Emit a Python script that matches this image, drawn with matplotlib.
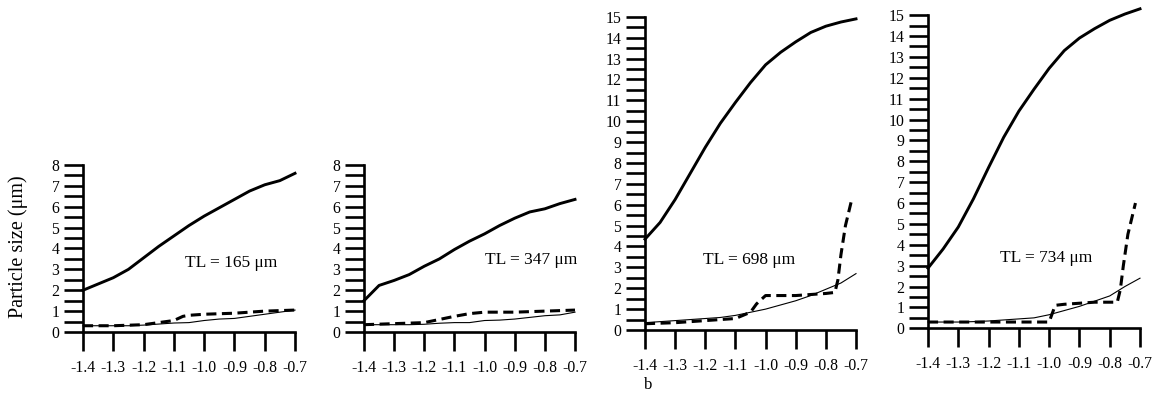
import matplotlib
matplotlib.use("Agg")
import matplotlib.pyplot as plt
import numpy as np

plt.rcParams['font.family'] = ['Liberation Serif', 'DejaVu Serif']
plt.rcParams['axes.unicode_minus'] = False

# x positions (log scale values on the axis)
x = [-1.4, -1.35, -1.3, -1.25, -1.2, -1.15, -1.1, -1.05, -1.0, -0.95, -0.9, -0.85, -0.8, -0.75, -0.7]

# panel 1, TL = 165 um
p1_thick = [2.0, 2.3, 2.6, 3.0, 3.55, 4.1, 4.6, 5.1, 5.55, 5.95, 6.35, 6.75, 7.05, 7.25, 7.6]
p1_thin = [0.3, 0.3, 0.3, 0.3, 0.33, 0.38, 0.43, 0.45, 0.55, 0.62, 0.65, 0.75, 0.85, 0.95, 1.05]
p1_dash_x = [-1.4, -1.3, -1.2, -1.15, -1.1, -1.07, -1.05, -1.0, -0.9, -0.8, -0.7]
p1_dash = [0.3, 0.3, 0.35, 0.45, 0.55, 0.75, 0.8, 0.85, 0.9, 1.0, 1.05]

# panel 2, TL = 347 um
p2_thick = [1.5, 2.23, 2.47, 2.75, 3.15, 3.5, 3.95, 4.35, 4.7, 5.1, 5.45, 5.75, 5.9, 6.15, 6.35]
p2_thin = [0.35, 0.35, 0.35, 0.35, 0.37, 0.42, 0.45, 0.45, 0.55, 0.57, 0.62, 0.7, 0.78, 0.82, 0.95]
p2_dash_x = [-1.4, -1.3, -1.2, -1.15, -1.1, -1.05, -1.0, -0.9, -0.8, -0.7]
p2_dash = [0.35, 0.4, 0.45, 0.6, 0.75, 0.88, 0.95, 0.95, 1.0, 1.05]

# panel 3, TL = 698 um
p3_thick = [4.35, 5.15, 6.25, 7.5, 8.75, 9.9, 10.9, 11.85, 12.7, 13.3, 13.8, 14.25, 14.55, 14.75, 14.9]
p3_thin = [0.35, 0.4, 0.45, 0.5, 0.55, 0.6, 0.7, 0.85, 1.0, 1.2, 1.4, 1.65, 1.95, 2.25, 2.7]
p3_dash_x = [-1.4, -1.3, -1.2, -1.1, -1.05, -1.03, -1.0, -0.9, -0.8, -0.77, -0.76, -0.75, -0.735, -0.715]
p3_dash = [0.3, 0.35, 0.45, 0.55, 0.85, 1.25, 1.65, 1.65, 1.75, 1.8, 2.4, 3.6, 5.0, 6.2]

# panel 4, TL = 734 um
p4_thick = [2.88, 3.8, 4.85, 6.2, 7.7, 9.15, 10.4, 11.45, 12.45, 13.3, 13.9, 14.35, 14.75, 15.05, 15.3]
p4_thin = [0.3, 0.3, 0.3, 0.32, 0.35, 0.4, 0.45, 0.5, 0.65, 0.85, 1.05, 1.3, 1.55, 2.0, 2.4]
p4_dash_x = [-1.4, -1.3, -1.2, -1.1, -1.0, -0.98, -0.95, -0.9, -0.85, -0.775, -0.765, -0.755, -0.74, -0.715]
p4_dash = [0.3, 0.3, 0.3, 0.3, 0.3, 1.1, 1.15, 1.2, 1.25, 1.25, 1.85, 3.0, 4.5, 6.0]

labels = ['TL = 165 \u03bcm', 'TL = 347 \u03bcm', 'TL = 698 \u03bcm', 'TL = 734 \u03bcm']
label_pos = [(-0.91, 3.3), (-0.845, 3.43), (-1.055, 3.37), (-1.01, 3.37)]
ymax = [8, 8, 15, 15]
xticks = [-1.4, -1.3, -1.2, -1.1, -1.0, -0.9, -0.8, -0.7]

panels = [
    (p1_thick, p1_thin, p1_dash_x, p1_dash),
    (p2_thick, p2_thin, p2_dash_x, p2_dash),
    (p3_thick, p3_thin, p3_dash_x, p3_dash),
    (p4_thick, p4_thin, p4_dash_x, p4_dash),
]

W, H = 1155, 401
fig = plt.figure(figsize=(W / 100, H / 100), dpi=100)

px_per_unit = 20.88
# left px, width px, bottom px (from top), ylim top
boxes = [(83, 212, 332, 8.2), (364, 211, 332, 8.2), (645, 211, 330, 15.4), (928, 212, 328.3, 15.5)]

for i, (thick, thin, dx, dy) in enumerate(panels):
    left, wid, bot, ytop = boxes[i]
    hgt = ytop * px_per_unit
    ax = fig.add_axes([left / W, (H - bot) / H, wid / W, hgt / H])
    ax.set_xlim(-1.4, -0.7)
    ax.set_ylim(0, ytop)

    ax.plot(x, thick, color='black', lw=2.1, clip_on=False, solid_joinstyle='round')
    ax.plot(x, thin, color='black', lw=0.8, clip_on=False)
    ax.plot(dx, dy, color='black', lw=2.2, linestyle=(0, (3.3, 1.8)), clip_on=False)

    ax.text(label_pos[i][0], label_pos[i][1], labels[i], ha='center', va='center', fontsize=12.5)

    for s in ['top', 'right']:
        ax.spines[s].set_visible(False)
    ax.spines['left'].set_bounds(0, ymax[i])
    ax.spines['left'].set_linewidth(1.9)
    ax.spines['bottom'].set_linewidth(1.9)

    ax.set_xticks(xticks)
    ax.set_xticklabels(['%.1f' % v for v in xticks])
    ax.set_yticks(range(0, ymax[i] + 1))
    ax.set_yticks(np.arange(0.5, ymax[i], 1.0), minor=True)
    ax.tick_params(axis='x', direction='out', length=13.5, width=1.9, pad=6.5, labelsize=11.3)
    ax.tick_params(axis='y', which='both', direction='out', length=14, width=1.9, pad=3, labelsize=11.3)

fig.text(18 / W, 1 - 247 / H, 'Particle size (\u03bcm)', rotation=90, ha='center', va='center', fontsize=14.5)
fig.text(648 / W, 1 - 385 / H, 'b', ha='center', va='center', fontsize=12)

fig.savefig('out.png', dpi=100, facecolor='white')
